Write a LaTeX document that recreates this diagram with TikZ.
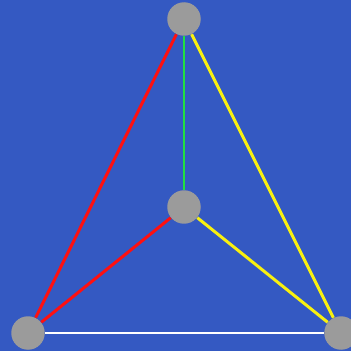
\documentclass[tikz,border=0pt]{standalone}
\usepackage{xcolor}
\usepackage{tikz}

\begin{document}
\begin{tikzpicture}[x=0.02cm, y=-0.02cm]

% Colori
\definecolor{colSfondo}{HTML}{3459C2}
\definecolor{colNodo}{HTML}{9B9B9B}
\definecolor{colRosso}{HTML}{FF1010}
\definecolor{colVerde}{HTML}{20E040}
\definecolor{colGiallo}{HTML}{F8F010}

\tikzset{
  vertice/.style={circle, fill=colNodo, minimum size=0.67cm, inner sep=0pt},
  lato/.style={line width=1.7pt}
}

% Sfondo
\fill[colSfondo] (0,0) rectangle (351,351);
\useasboundingbox (0,0) rectangle (351,351);

% Vertici
\node[vertice] (alto) at (184,19) {};
\node[vertice] (centro) at (184,207) {};
\node[vertice] (sx) at (28,333) {};
\node[vertice] (dx) at (341,333) {};

% Lati
\draw[lato, colRosso] (alto) -- (sx);
\draw[lato, colVerde] (alto) -- (centro);
\draw[lato, colGiallo] (alto) -- (dx);
\draw[lato, colRosso] (centro) -- (sx);
\draw[lato, colGiallo] (centro) -- (dx);
\draw[lato, white] (sx) -- (dx);
\end{tikzpicture}
\end{document}
